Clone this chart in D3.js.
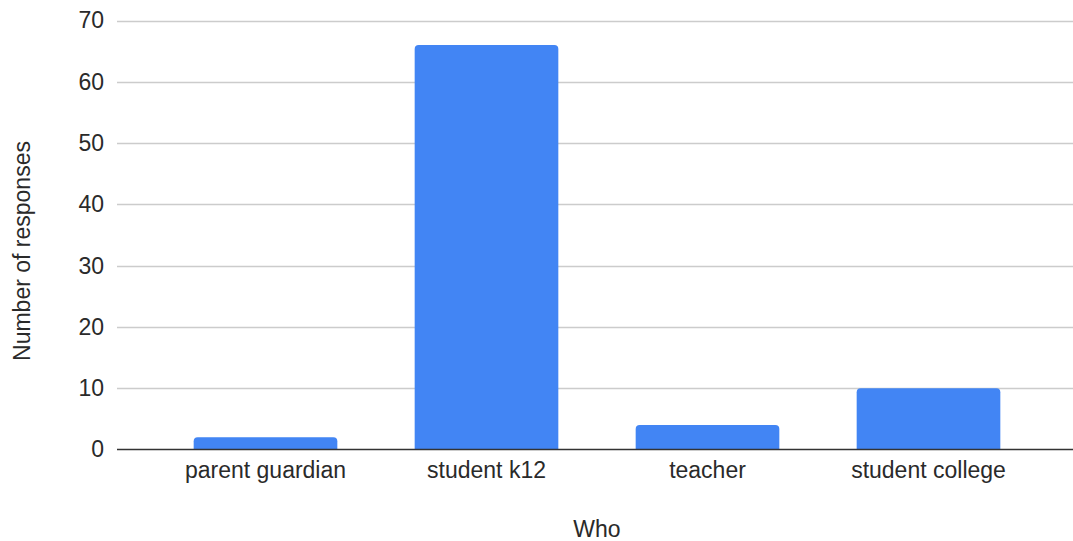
<!DOCTYPE html>
<html>
<head>
<meta charset="utf-8">
<script src="https://cdn.jsdelivr.net/npm/d3@7"></script>
<style>
  html, body { margin: 0; padding: 0; background: #fff; }
  svg { display: block; font-family: "Liberation Sans", Arial, sans-serif; }
</style>
</head>
<body>
<svg id="chart" width="1073" height="541"></svg>
<script>
// Responses grouped by respondent type
const categories = ["parent guardian", "student k12", "teacher", "student college"];
const responses = [2, 66, 4, 10];
const yTicks = [0, 10, 20, 30, 40, 50, 60, 70];

const svg = d3.select("#chart");
const plot = { left: 117, right: 1073, top: 20.5, bottom: 449.5 };
const bandStart = 155, bandEnd = 1039;
const fontSize = 23;
const textColor = "#2a2a2a";

const x = d3.scaleBand()
  .domain(categories)
  .range([bandStart, bandEnd])
  .paddingInner(0.35)
  .paddingOuter(0.175);

const y = d3.scaleLinear()
  .domain([0, 70])
  .range([plot.bottom, plot.top]);

// Horizontal gridlines
svg.append("g")
  .selectAll("line")
  .data(yTicks.filter(d => d !== 0))
  .join("line")
  .attr("x1", plot.left)
  .attr("x2", plot.right)
  .attr("y1", d => Math.round(y(d)) + 0.5)
  .attr("y2", d => Math.round(y(d)) + 0.5)
  .attr("stroke", "#cccccc")
  .attr("stroke-width", 1.5);

// Y axis tick labels
const yAxis = d3.axisLeft(y).tickValues(yTicks).tickSize(0).tickPadding(0);
const yg = svg.append("g")
  .attr("transform", `translate(104,0)`)
  .call(yAxis);
yg.select(".domain").remove();
yg.selectAll("text")
  .attr("fill", textColor)
  .attr("font-size", fontSize)
  .attr("font-family", "\"Liberation Sans\", Arial, sans-serif");

// Bars with rounded top corners
const r = 4;
function barPath(d, i) {
  const x0 = x(categories[i]);
  const w = x.bandwidth();
  const y0 = y(d);
  const yb = plot.bottom;
  return `M${x0},${yb}V${y0 + r}Q${x0},${y0} ${x0 + r},${y0}` +
         `H${x0 + w - r}Q${x0 + w},${y0} ${x0 + w},${y0 + r}V${yb}Z`;
}
svg.append("g")
  .selectAll("path")
  .data(responses)
  .join("path")
  .attr("d", barPath)
  .attr("fill", "#4285f4");

// Baseline
svg.append("line")
  .attr("x1", plot.left)
  .attr("x2", plot.right)
  .attr("y1", plot.bottom)
  .attr("y2", plot.bottom)
  .attr("stroke", "#333333")
  .attr("stroke-width", 1.6);

// X axis category labels
const xAxis = d3.axisBottom(x).tickSize(0).tickPadding(0);
const xg = svg.append("g")
  .attr("transform", `translate(0,${plot.bottom + 12.5})`)
  .call(xAxis);
xg.select(".domain").remove();
xg.selectAll("text")
  .attr("fill", textColor)
  .attr("font-size", fontSize)
  .attr("font-family", "\"Liberation Sans\", Arial, sans-serif");

// Axis titles
svg.append("text")
  .attr("x", 597)
  .attr("y", 537)
  .attr("text-anchor", "middle")
  .attr("fill", textColor)
  .attr("font-size", fontSize)
  .text("Who");

svg.append("text")
  .attr("transform", "translate(30,251) rotate(-90)")
  .attr("text-anchor", "middle")
  .attr("fill", textColor)
  .attr("font-size", fontSize)
  .text("Number of responses");
</script>
</body>
</html>
